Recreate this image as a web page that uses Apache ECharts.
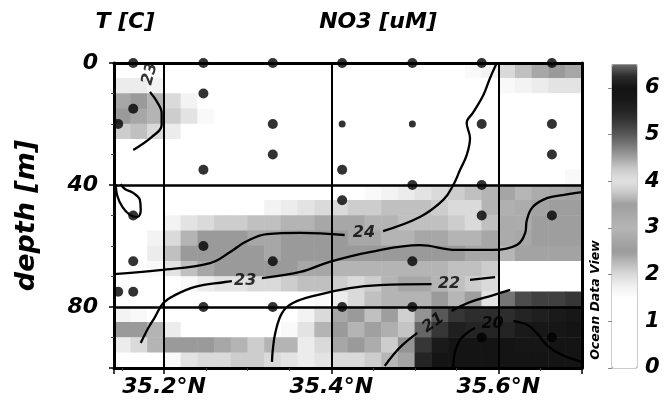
<!DOCTYPE html>
<html><head><meta charset="utf-8">
<script src="https://cdn.jsdelivr.net/npm/echarts@6/dist/echarts.min.js"></script>
<style>html,body{margin:0;padding:0;background:#fff}#c{width:672px;height:410px}</style>
</head><body><div id="c"></div>
<script>
// ---- categories of the NO3 grid (cell centres) ----
const latCats = ['35.15','35.17','35.19','35.21','35.23','35.25','35.27','35.29','35.31','35.33','35.35','35.37','35.39','35.41','35.43','35.45','35.47','35.49','35.51','35.53','35.55','35.57','35.59','35.61','35.63','35.65','35.67','35.69'];
const depthCats = ['2.5','7.5','12.5','17.5','22.5','27.5','32.5','37.5','42.5','47.5','52.5','57.5','62.5','67.5','72.5','77.5','82.5','87.5','92.5','97.5'];

// ---- NO3 [uM] gridded field, one row per depth cell ----
const no3Grid = [
 [1.2,1.2,1.2,1.2,1.2,1.2,1.2,1.2,1.2,1.2,1.2,1.2,1.2,1.2,1.2,1.2,1.2,1.2,1.3,1.4,1.5,1.6,1.7,2.0,2.2,2.4,2.5,2.4],
 [1.8,1.8,1.7,1.5,1.3,1.2,1.2,1.2,1.2,1.2,1.2,1.2,1.2,1.2,1.2,1.2,1.2,1.2,1.2,1.2,1.2,1.2,1.2,1.6,1.7,1.8,1.9,1.9],
 [2.4,2.5,2.3,2.0,1.7,1.4,1.2,1.2,1.2,1.2,1.2,1.2,1.2,1.2,1.2,1.2,1.2,1.2,1.2,1.2,1.2,1.2,1.2,1.2,1.2,1.2,1.2,1.2],
 [2.5,2.4,2.3,2.1,1.9,1.6,1.2,1.2,1.2,1.2,1.2,1.2,1.2,1.2,1.2,1.2,1.2,1.2,1.2,1.2,1.2,1.2,1.2,1.2,1.2,1.2,1.2,1.2],
 [2.1,2.2,2.0,1.8,1.5,1.2,1.2,1.2,1.2,1.2,1.2,1.2,1.2,1.2,1.2,1.2,1.2,1.2,1.2,1.2,1.2,1.2,1.2,1.2,1.2,1.2,1.2,1.2],
 [1.2,1.2,1.2,1.2,1.2,1.2,1.2,1.2,1.2,1.2,1.2,1.2,1.2,1.2,1.2,1.2,1.2,1.2,1.2,1.2,1.2,1.2,1.2,1.2,1.2,1.2,1.2,1.2],
 [1.2,1.2,1.2,1.2,1.2,1.2,1.2,1.2,1.2,1.2,1.2,1.2,1.2,1.2,1.2,1.2,1.2,1.2,1.2,1.2,1.2,1.2,1.2,1.2,1.2,1.2,1.2,1.2],
 [1.2,1.2,1.2,1.2,1.2,1.2,1.2,1.2,1.2,1.2,1.2,1.2,1.2,1.2,1.2,1.2,1.2,1.2,1.2,1.2,1.2,1.2,1.2,1.2,1.2,1.4,1.5,1.6],
 [1.2,1.2,1.2,1.2,1.2,1.2,1.2,1.2,1.2,1.2,1.2,1.2,1.2,1.2,1.5,1.6,1.7,1.8,1.9,2.0,2.1,2.2,2.3,2.7,3.0,3.2,3.3,3.4],
 [1.2,1.2,1.2,1.2,1.2,1.2,1.2,1.2,1.2,1.7,1.8,1.9,2.0,2.0,2.1,2.1,2.2,2.2,2.2,2.1,2.0,2.0,2.3,2.9,3.2,3.4,3.5,3.5],
 [1.2,1.2,1.3,1.7,1.9,2.0,2.1,2.1,2.2,2.2,2.3,2.3,2.4,2.4,2.4,2.3,2.3,2.2,2.2,2.2,2.1,2.0,2.2,2.8,3.2,3.5,3.5,3.5],
 [1.2,1.2,1.7,2.0,2.3,2.5,2.5,2.5,2.4,2.4,2.5,2.5,2.5,2.5,2.4,2.4,2.3,2.3,2.4,2.4,2.3,2.3,2.4,2.8,3.3,3.5,3.5,3.5],
 [1.2,1.2,1.8,2.2,2.5,2.5,2.5,2.5,2.5,2.4,2.5,2.5,2.5,2.5,2.5,2.5,2.5,2.5,2.5,2.5,2.5,2.4,2.4,3.0,3.4,3.4,3.4,3.4],
 [1.2,1.2,1.6,1.9,2.2,2.4,2.5,2.5,2.5,2.5,2.5,2.4,2.4,2.3,2.3,2.3,2.3,2.3,2.3,2.3,2.2,2.2,2.1,1.4,1.4,1.4,1.4,1.4],
 [1.2,1.2,1.3,1.4,1.6,1.8,1.9,1.9,2.0,2.0,2.1,2.2,2.2,2.1,2.0,2.1,2.3,2.4,2.4,2.3,2.2,2.1,2.0,1.4,1.4,1.4,1.4,1.4],
 [1.3,1.3,1.3,1.3,1.3,1.3,1.3,1.3,1.3,1.3,1.4,1.5,1.6,1.8,2.0,2.2,2.3,2.3,2.3,2.5,3.0,3.5,4.0,4.8,5.1,5.2,5.2,5.3],
 [1.7,1.6,1.4,1.3,1.3,1.3,1.3,1.3,1.3,1.4,1.5,1.7,2.0,2.4,2.5,2.2,3.5,4.2,4.6,5.0,5.3,5.4,5.4,5.4,5.5,5.6,5.7,5.8],
 [2.5,2.5,2.3,1.8,1.4,1.3,1.3,1.3,1.3,1.5,1.6,1.9,2.3,2.5,2.3,2.6,3.6,4.3,4.9,5.3,5.6,5.5,5.5,5.5,5.7,5.8,5.9,6.0],
 [1.8,2.0,2.3,2.5,2.5,2.5,2.4,2.3,2.1,2.3,2.3,1.8,2.0,2.4,2.5,3.2,3.8,4.6,5.3,5.7,6.0,6.0,6.0,6.0,5.9,5.9,6.0,6.0],
 [1.3,1.3,1.4,1.6,1.9,2.0,2.0,2.1,2.1,2.0,1.9,1.8,1.9,2.0,2.0,2.1,3.0,4.5,5.5,6.0,6.0,6.0,6.0,6.0,6.0,6.0,6.0,6.0]
];

// ---- colour bar tick labels ----
const cbarTicks = [0,1,2,3,4,5,6];

// ---- sample positions [lat, depth] ----
const samples = [
 [35.145,20],[35.145,75],
 [35.163,0],[35.163,15],[35.163,50],[35.163,65],[35.163,75],
 [35.247,0],[35.247,10],[35.247,35],[35.247,60],[35.247,80],
 [35.330,0],[35.330,20],[35.330,30],[35.330,65],[35.330,80],
 [35.413,0],[35.413,35],[35.413,45],[35.413,80],
 [35.497,0],[35.497,40],[35.497,65],[35.497,80],
 [35.580,0],[35.580,20],[35.580,40],[35.580,50],[35.580,90],
 [35.664,0],[35.664,20],[35.664,30],[35.664,50],[35.664,90]
];
const samplesSmall = [[35.413,20],[35.497,20]];

// ---- temperature contours [lat, depth] ----
const c24a = [[35.140,69.2],[35.195,67.9],[35.255,65.6],[35.279,62.0],[35.297,58.7],[35.323,56.1],[35.363,55.7],[35.416,56.4]];
const c24b = [[35.462,55.1],[35.506,50.5],[35.534,44.9],[35.546,40.0],[35.554,35.1],[35.562,30.2],[35.566,24.6],[35.562,19.7],[35.570,16.1],[35.582,10.5],[35.590,4.9],[35.598,0]];
const c23a = [[35.172,91.8],[35.181,86.9],[35.189,83.3],[35.199,78.7],[35.213,76.1],[35.237,73.4],[35.273,71.8],[35.281,71.5]];
const c23b = [[35.317,70.5],[35.363,68.5],[35.398,65.2],[35.446,62.0],[35.506,59.7],[35.550,61.3],[35.594,61.3],[35.622,59.7],[35.632,55.7],[35.634,51.5],[35.641,47.2],[35.658,44.3],[35.677,43.3],[35.700,42.3]];
const c22a = [[35.329,98.0],[35.330,94.1],[35.333,88.5],[35.341,82.0],[35.354,78.7],[35.383,76.1],[35.422,73.8],[35.458,72.8],[35.520,72.5]];
const c22b = [[35.566,71.1],[35.596,70.2]];
const c21a = [[35.464,99.3],[35.474,95.7],[35.485,92.5],[35.503,88.5]];
const c21b = [[35.544,81.3],[35.566,78.4],[35.594,76.1],[35.614,74.4]];
const c20a = [[35.546,99.7],[35.548,94.8],[35.554,90.8],[35.564,88.2],[35.572,86.9]];
const c20b = [[35.618,84.6],[35.635,85.9],[35.647,88.9],[35.659,92.8],[35.676,95.7],[35.700,98.0]];
const c23top = [[35.183,9.5],[35.191,12.5],[35.197,16.4],[35.197,20.3],[35.185,24.3],[35.163,28.5]];
const cLoop = [[35.142,39.7],[35.144,43.6],[35.150,47.2],[35.159,49.8],[35.168,50.5],[35.172,48.2],[35.171,44.9],[35.163,42.6],[35.153,41.3],[35.148,39.7]];
const contourLabelPos = [[35.439,55.7],[35.297,71.5],[35.541,72.5],[35.522,85.2],[35.593,85.6],[35.183,3.6]];
const contourLabelText = ['24','23','22','21','20','23'];

// ---- styling ----
const FONT = 'DejaVu Sans';
const lab = {fontFamily:FONT, fontWeight:'bold', fontStyle:'italic', color:'#000'};
const palette = ['#ffffff','#ffffff','#ffffff','#ffffff','#ffffff','#ffffff','#ffffff','#f0f0f0','#dadada','#bababa','#9a9a9a','#a8a8a8','#b6b6b6','#aaaaaa','#9e9e9e','#c8c8c8','#e2e2e2','#cccccc','#a4a4a4','#7c7c7c','#585858','#3a3a3a','#242424','#181818','#141414','#2c2c2c','#6a6a6a'];
const labelRot = [0,0,0,35,0,75];

const heatData = [];
no3Grid.forEach((row,j)=>row.forEach((v,i)=>heatData.push([i,j,v])));

const lineSeries = [c24a,c24b,c23a,c23b,c22a,c22b,c21a,c21b,c20a,c20b,c23top,cLoop].map(d=>({
  type:'line', xAxisIndex:0, yAxisIndex:0, data:d, showSymbol:false, symbol:'none', smooth:0.4,
  lineStyle:{color:'#000', width:2.3}, z:6, silent:true
}));

const chart = echarts.init(document.getElementById('c'), null, {renderer:'canvas'});
chart.setOption({
  animation:false,
  backgroundColor:'#fff',
  grid:[
    {left:114, top:63, width:468, height:305, outerBoundsMode:'none', containLabel:false},
    {left:612, top:64.5, width:25, height:303.5, show:true, borderColor:'#9a9a9a', borderWidth:1, backgroundColor:'transparent', outerBoundsMode:'none', containLabel:false}
  ],
  xAxis:[
    {type:'value', gridIndex:0, min:35.14, max:35.70, splitNumber:3, position:'bottom', z:5,
     axisLine:{show:true, onZero:false, lineStyle:{color:'#000', width:3}},
     axisTick:{show:true, length:6, lineStyle:{color:'#000', width:1.5}},
     minorTick:{show:true, splitNumber:4, length:3, lineStyle:{color:'#444', width:1}},
     splitLine:{show:true, lineStyle:{color:'#000', width:2}},
     minorSplitLine:{show:false},
     axisLabel:Object.assign({margin:8, fontSize:22, showMinLabel:false, showMaxLabel:false, formatter:v=>v.toFixed(1)+'°N'}, lab)},
    {type:'value', gridIndex:0, min:35.14, max:35.70, position:'top', z:5,
     axisLine:{show:true, onZero:false, lineStyle:{color:'#000', width:3}},
     axisTick:{show:false}, axisLabel:{show:false}, splitLine:{show:false}},
    {type:'category', gridIndex:0, data:latCats, show:false},
    {type:'value', gridIndex:1, min:0, max:1, show:false}
  ],
  yAxis:[
    {type:'value', gridIndex:0, min:0, max:100, interval:40, inverse:true, position:'left', z:5,
     axisLine:{show:true, onZero:false, lineStyle:{color:'#000', width:3}},
     axisTick:{show:true, length:5, lineStyle:{color:'#000', width:1.5}},
     minorTick:{show:true, splitNumber:4, length:3, lineStyle:{color:'#444', width:1}},
     splitLine:{show:true, lineStyle:{color:'#000', width:2.5}},
     axisLabel:Object.assign({margin:16, fontSize:22, showMaxLabel:false}, lab),
     name:'depth [m]', nameLocation:'middle', nameRotate:90, nameGap:74,
     nameTextStyle:Object.assign({fontSize:27}, lab)},
    {type:'value', gridIndex:0, min:0, max:100, inverse:true, position:'right', z:5,
     axisLine:{show:true, onZero:false, lineStyle:{color:'#000', width:3}},
     axisTick:{show:false}, axisLabel:{show:false}, splitLine:{show:false}},
    {type:'category', gridIndex:0, data:depthCats, inverse:true, show:false},
    {type:'value', gridIndex:1, min:0, max:6.5, interval:1, position:'right', z:5,
     axisLine:{show:false},
     axisTick:{show:true, inside:true, length:4, lineStyle:{color:'#888', width:1}},
     splitLine:{show:false},
     axisLabel:Object.assign({margin:8, fontSize:21, showMaxLabel:false, formatter:v=>cbarTicks.indexOf(v)>=0?String(v):''}, lab)}
  ],
  visualMap:{type:'continuous', seriesIndex:0, min:0, max:6.5, show:true, calculable:false, orient:'vertical',
    left:612, top:64.5, itemWidth:25, itemHeight:303.5, padding:0, text:null, hoverLink:false,
    inRange:{color:palette}},
  graphic:[
    {type:'text', x:125, y:22, style:{text:'T [C]', fill:'#000', font:'italic bold 22px "DejaVu Sans"', align:'center', verticalAlign:'middle', textAlign:'center', textVerticalAlign:'middle'}},
    {type:'text', x:378, y:22, style:{text:'NO3 [uM]', fill:'#000', font:'italic bold 22px "DejaVu Sans"', align:'center', verticalAlign:'middle', textAlign:'center', textVerticalAlign:'middle'}},
    {type:'text', x:596, y:300, rotation:Math.PI/2, style:{text:'Ocean Data View', fill:'#000', font:'italic bold 12.5px "DejaVu Sans"', align:'center', verticalAlign:'middle', textAlign:'center', textVerticalAlign:'middle'}}
  ],
  series:[
    {type:'heatmap', xAxisIndex:2, yAxisIndex:2, data:heatData, z:1, silent:true, progressive:0,
     itemStyle:{borderWidth:0}, emphasis:{disabled:true}},
    ...lineSeries,
    {type:'scatter', xAxisIndex:0, yAxisIndex:0, data:contourLabelPos.map((p,k)=>({value:p, name:contourLabelText[k], label:{rotate:labelRot[k]}})),
     symbolSize:1, itemStyle:{color:'rgba(0,0,0,0)'}, z:7, silent:true,
     label:{show:true, position:'inside', formatter:'{b}', fontSize:16, color:'#000', fontFamily:FONT, fontWeight:'bold', fontStyle:'italic'}},
    {type:'scatter', xAxisIndex:0, yAxisIndex:0, data:samples, symbolSize:10, itemStyle:{color:'#000'}, z:8, silent:true, clip:false},
    {type:'scatter', xAxisIndex:0, yAxisIndex:0, data:samplesSmall, symbolSize:7, itemStyle:{color:'#000'}, z:8, silent:true, clip:false}
  ]
});
</script></body></html>
